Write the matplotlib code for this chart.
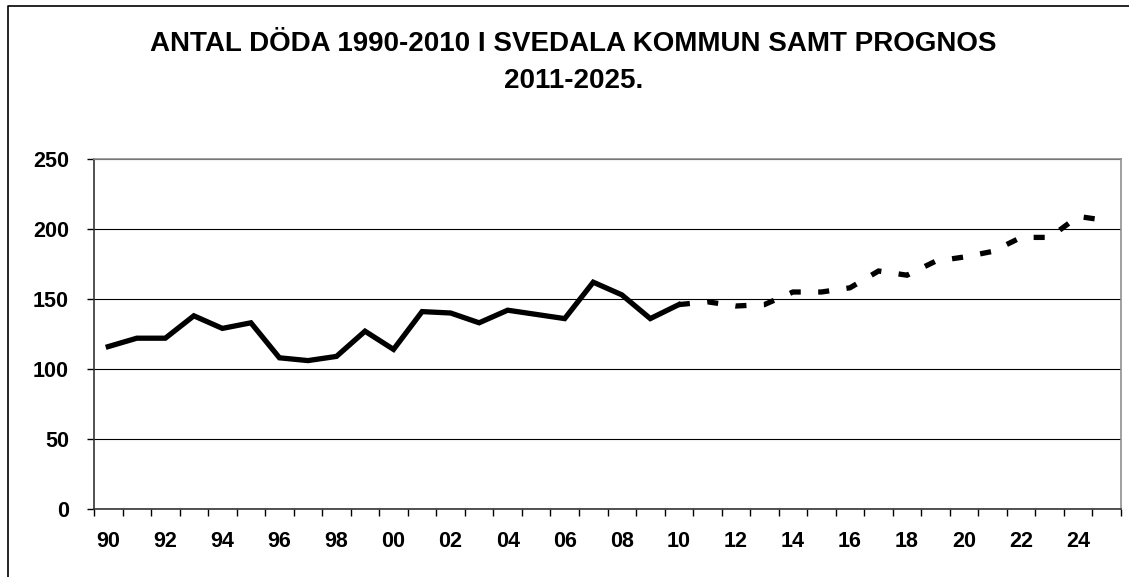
import numpy as np
import matplotlib.pyplot as plt
from matplotlib.lines import Line2D

plt.rcParams['font.family'] = ['Liberation Sans', 'DejaVu Sans']
plt.rcParams['font.weight'] = 'bold'

years = list(range(1990, 2026))
labels = [str(y)[2:] if (y % 2 == 0) else '' for y in years]

# observerat 1990-2010
observed = [116, 122, 122, 138, 129, 133, 108, 106, 109, 127, 114,
            141, 140, 133, 142, 139, 136, 162, 153, 136, 146]
# prognos 2010-2025 (startar i 2010 för att hänga ihop)
prognos = [146, 148, 145, 146, 155, 155, 158, 170, 167, 177, 180,
           184, 194, 194, 209, 206]

W, H = 1129, 577
fig = plt.figure(figsize=(W / 100, H / 100), dpi=100)
ax = fig.add_axes([94 / W, (H - 509) / H, (1121 - 94) / W, (509 - 159) / H])

x_obs = np.arange(len(observed))
x_prog = np.arange(len(observed) - 1, len(observed) - 1 + len(prognos))

ax.plot(x_obs, observed, color='black', lw=3.8, solid_joinstyle='miter', zorder=3)
ax.plot(x_prog, prognos, color='black', lw=3.8, dashes=(2.1, 3.3),
        dash_capstyle='butt', dash_joinstyle='miter', zorder=3)

ax.set_xlim(-0.5, len(years) - 0.5)
ax.set_ylim(0, 250)
ax.set_yticks([0, 50, 100, 150, 200, 250])
ax.yaxis.grid(True, color='black', lw=0.8)
ax.set_axisbelow(True)

ax.set_xticks(np.arange(len(years)))
ax.set_xticklabels(labels)
ax.set_xticks(np.arange(-0.5, len(years)), minor=True)
ax.tick_params(axis='x', which='major', length=0, pad=16, labelsize=15.5)
ax.tick_params(axis='x', which='minor', length=5, width=1, direction='out')
ax.tick_params(axis='y', length=5, width=1, direction='out', pad=13, labelsize=15.5)

for s in ['top', 'right']:
    ax.spines[s].set_color('#909090')
    ax.spines[s].set_linewidth(1.2)
for s in ['left', 'bottom']:
    ax.spines[s].set_color('#333333')
    ax.spines[s].set_linewidth(1.2)

fig.text(573 / W, 1 - 44 / H, 'ANTAL DÖDA 1990-2010 I SVEDALA KOMMUN SAMT PROGNOS',
         ha='center', va='center', fontsize=20, fontweight='bold')
fig.text(574 / W, 1 - 81 / H, '2011-2025.',
         ha='center', va='center', fontsize=20, fontweight='bold')

# yttre ram (beskuren nere och till höger)
fig.add_artist(Line2D([7.5 / W, 7.5 / W, 1], [0, 1 - 6 / H, 1 - 6 / H],
                      transform=fig.transFigure, color='black', lw=1.2))

fig.savefig('out.png', dpi=100)
